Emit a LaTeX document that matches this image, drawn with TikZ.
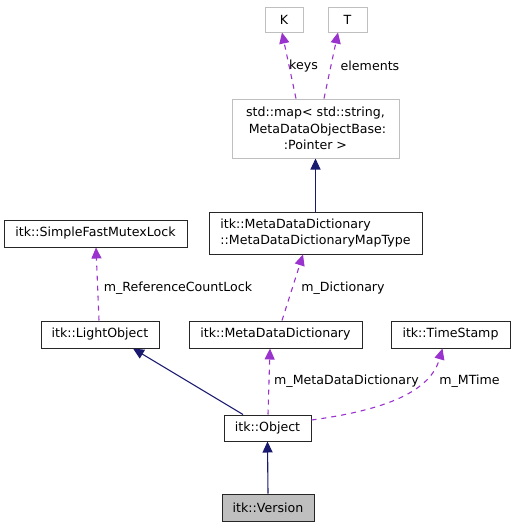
\documentclass[tikz,border=0pt]{standalone}
\usepackage{fontspec}
\setmainfont{DejaVu Sans}
\usetikzlibrary{arrows.meta,calc}
\definecolor{mnblue}{HTML}{191970}
\definecolor{dorchid}{HTML}{9A32CD}
\definecolor{grayborder}{HTML}{BFBFBF}
\definecolor{curfill}{HTML}{BFBFBF}
\begin{document}
\begin{tikzpicture}[x=1pt,y=-1pt,
  font=\fontsize{12.6}{16.3}\selectfont,
  box/.style={draw=black!85, fill=white, line width=1pt, inner sep=0pt, minimum height=27pt},
  gbox/.style={draw=grayborder, fill=white, line width=1pt, inner sep=0pt, minimum height=25pt},
  inh/.style={draw=mnblue, line width=1.1pt, -{Triangle[length=11pt,width=10pt,fill=mnblue]}},
  usage/.style={draw=dorchid, line width=1.1pt, dash pattern=on 5pt off 5pt, -{Triangle[length=11pt,width=10pt,fill=dorchid]}},
  lbl/.style={inner sep=0pt}]
\useasboundingbox (0,0) rectangle (515,528);
% nodes
\node[gbox, minimum width=38pt] (K) at (284,19.5) {K};
\node[gbox, minimum width=39pt] (T) at (347.5,19.5) {T};
\node[gbox, minimum width=167pt, minimum height=59pt, align=center] (map) at (315.5,128.5) {std::map< std::string,\\ \ MetaDataObjectBase:\\:Pointer >};
\node[box, minimum width=213pt, minimum height=42pt, align=left] (mt) at (315.5,233) {itk::MetaDataDictionary\\::MetaDataDictionaryMapType};
\node[box, minimum width=183pt] (sfml) at (95.5,233.5) {itk::SimpleFastMutexLock};
\node[box, minimum width=118pt] (lo) at (100,334.5) {itk::LightObject};
\node[box, minimum width=173pt] (mdd) at (275.5,334.5) {itk::MetaDataDictionary};
\node[box, minimum width=119pt] (ts) at (450.5,334.5) {itk::TimeStamp};
\node[box, minimum width=87pt, minimum height=26pt] (obj) at (267.5,428) {itk::Object};
\node[box, fill=curfill, minimum width=92pt] (ver) at (268,507.5) {itk::Version};
% edges
\draw[inh] (ver.north) -- (obj.south);
\draw[inh] ($(obj.north)+(-24.5,0)$) -- ($(lo.south)+(33,0)$);
\draw[usage] ($(obj.north)+(0.5,0)$) -- ($(mdd.south)+(-5.5,0)$);
\draw[usage] ($(obj.east)+(0,-8)$) .. controls (385,410) and (430,392) .. ($(ts.south)+(-8,0)$);
\draw[usage] ($(mdd.north)+(6.5,0)$) -- ($(mt.south)+(-12.5,0)$);
\draw[usage] ($(lo.north)+(-1,0)$) -- ($(sfml.south)+(0.5,0)$);
\draw[inh] (mt.north) -- (map.south);
\draw[usage] ($(map.north)+(-19.5,0)$) -- ($(K.south)+(-2,0)$);
\draw[usage] ($(map.north)+(8.5,0)$) -- ($(T.south)+(-9.5,0)$);
% labels
\node[lbl] (lkeys) at (303.5,66) {keys};
\node[lbl] (lelem) at (370,66) {elements};
\node[lbl] (lrcl) at (178,288) {m\_ReferenceCountLock};
\node[lbl] (ldict) at (343,288) {m\_Dictionary};
\node[lbl] (lmdd) at (346.5,381) {m\_MetaDataDictionary};
\node[lbl] (lmt) at (469.5,381) {m\_MTime};
\end{tikzpicture}
\end{document}
